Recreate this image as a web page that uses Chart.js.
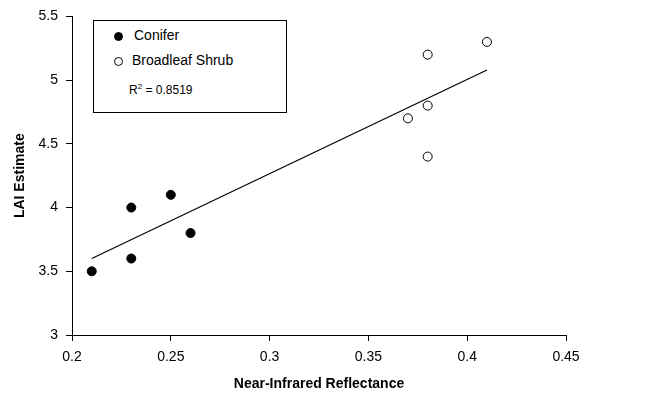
<!DOCTYPE html>
<html>
<head>
<meta charset="utf-8">
<script src="https://cdn.jsdelivr.net/npm/chart.js@4"></script>
<style>
  html, body { margin: 0; padding: 0; background: #fff; }
  #wrap { position: relative; width: 666px; height: 403px; }
  #legend {
    position: absolute; left: 93px; top: 20px; width: 194px; height: 93px;
    border: 1px solid #000; box-sizing: border-box; background: #fff;
    font-family: "Liberation Sans", Arial, sans-serif; color: #000;
  }
  .row { position: absolute; font-size: 14px; line-height: 16px; }
  .dot { position: absolute; width: 9px; height: 9px; border-radius: 50%; box-sizing: border-box; border: 1px solid #000; }
  .r2 { position: absolute; font-size: 12px; left: 35px; top: 61px; }
  .r2 sup { font-size: 8px; }
</style>
</head>
<body>
<div id="wrap">
  <canvas id="laiChart" width="666" height="403"></canvas>
  <div id="legend">
    <span class="dot" style="left:20px;top:11px;background:#000"></span>
    <span class="row" style="left:40px;top:6px">Conifer</span>
    <span class="dot" style="left:20px;top:36px;background:#fff"></span>
    <span class="row" style="left:38px;top:31px">Broadleaf Shrub</span>
    <span class="r2">R<sup>2</sup> = 0.8519</span>
  </div>
</div>
<script>
const coniferX = [0.21, 0.23, 0.23, 0.25, 0.26];
const coniferY = [3.5, 3.6, 4.0, 4.1, 3.8];
const shrubX = [0.37, 0.38, 0.38, 0.38, 0.41];
const shrubY = [4.7, 5.2, 4.8, 4.4, 5.3];
const trendX = [0.21, 0.41];
const trendY = [3.6, 5.08];

const pts = (xs, ys) => xs.map((x, i) => ({ x: x, y: ys[i] }));
const font = { family: '"Liberation Sans", Arial, sans-serif', size: 14 };
const plain = v => String(Math.round(v * 100) / 100);

new Chart(document.getElementById('laiChart'), {
    type: 'scatter',
    data: {
        datasets: [{
            label: 'Conifer',
            data: pts(coniferX, coniferY),
            pointRadius: 4.5,
            backgroundColor: '#000',
            borderColor: '#000',
            borderWidth: 1
        }, {
            label: 'Broadleaf Shrub',
            data: pts(shrubX, shrubY),
            pointRadius: 4.5,
            backgroundColor: '#fff',
            borderColor: '#000',
            borderWidth: 1
        }, {
            label: 'Trend',
            type: 'line',
            data: pts(trendX, trendY),
            pointRadius: 0,
            borderColor: '#000',
            borderWidth: 1.2,
            fill: false
        }]
    },
    options: {
        responsive: false,
        animation: false,
        layout: { padding: { top: 13, right: 100, left: 8, bottom: 6 } },
        plugins: { legend: { display: false }, tooltip: { enabled: false } },
        scales: {
            x: {
                type: 'linear', min: 0.2, max: 0.45,
                ticks: { stepSize: 0.05, color: '#000', font: font, padding: 8, callback: plain },
                grid: { drawOnChartArea: false, drawTicks: true, tickLength: 6, color: '#000' },
                border: { display: true, color: '#000' },
                title: { display: true, text: 'Near-Infrared Reflectance', color: '#000',
                         font: { family: font.family, size: 14, weight: 'bold' }, padding: { top: 6 } },
                afterFit: s => { s.height = 62; }
            },
            y: {
                min: 3, max: 5.5,
                ticks: { stepSize: 0.5, color: '#000', font: font, padding: 8, callback: plain },
                grid: { drawOnChartArea: false, drawTicks: true, tickLength: 6, color: '#000' },
                border: { display: true, color: '#000' },
                title: { display: true, text: 'LAI Estimate', color: '#000',
                         font: { family: font.family, size: 14, weight: 'bold' }, padding: { bottom: 8 } },
                afterFit: s => { s.width = 64; }
            }
        }
    }
});
</script>
</body>
</html>
